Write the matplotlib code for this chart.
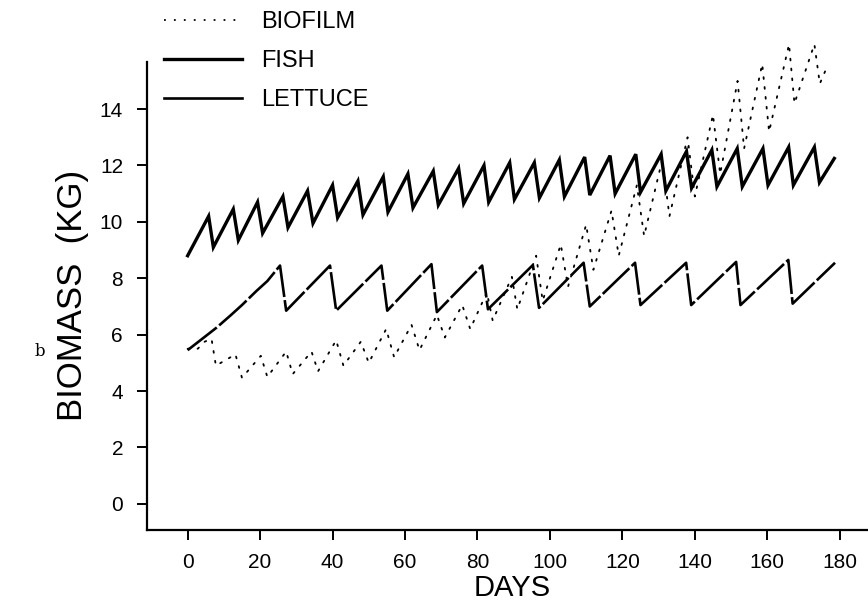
import matplotlib
matplotlib.use("Agg")
import matplotlib.pyplot as plt
from matplotlib.lines import Line2D

# fish: weekly sawtooth (start, peaks, troughs, end)
fish_start = (0, 8.8)
fish_peak_days = [5.8, 12.6, 19.3, 26.3, 33.1, 40.0, 47.0, 54.0, 60.8, 67.8, 74.8, 81.8,
                  88.9, 95.7, 102.6, 109.6, 116.6, 123.7, 130.7, 137.7, 144.7, 151.7,
                  158.8, 165.9, 173.0]
fish_peak_vals = [10.2, 10.45, 10.7, 10.9, 11.1, 11.3, 11.45, 11.6, 11.7, 11.8, 11.9, 12.0,
                  12.1, 12.1, 12.2, 12.3, 12.35, 12.4, 12.4, 12.5, 12.55, 12.6, 12.6,
                  12.65, 12.65]
fish_trough_days = [7.1, 14.0, 20.7, 27.7, 34.6, 41.4, 48.4, 55.3, 62.2, 69.2, 76.2, 83.1,
                    90.2, 97.1, 104.0, 111.0, 118.0, 125.0, 132.0, 139.1, 146.1, 153.1,
                    160.2, 167.2, 174.4]
fish_trough_vals = [9.1, 9.35, 9.6, 9.8, 9.95, 10.15, 10.25, 10.35, 10.5, 10.6, 10.65, 10.7,
                    10.8, 10.85, 10.9, 10.95, 11.0, 11.05, 11.1, 11.2, 11.25, 11.25, 11.3,
                    11.3, 11.4]
fish_end = (178.5, 12.25)

# lettuce: two-week harvest cycle
lettuce_start_days = [0, 4, 8, 12, 15, 19, 22]
lettuce_start_vals = [5.45, 5.85, 6.25, 6.7, 7.05, 7.55, 7.9]
lettuce_peak_days = [25.5, 39.3, 53.5, 67.3, 81.3, 95.3, 109.3, 123.5, 137.6, 151.4, 165.8]
lettuce_peak_vals = [8.45, 8.45, 8.45, 8.5, 8.45, 8.47, 8.55, 8.55, 8.55, 8.58, 8.65]
lettuce_trough_days = [27.2, 41.0, 55.1, 68.8, 82.9, 97.0, 111.0, 125.0, 139.0, 152.6, 167.0]
lettuce_trough_vals = [6.85, 6.85, 6.85, 6.8, 6.9, 6.95, 7.0, 7.05, 7.05, 7.05, 7.1]
lettuce_end = (178.7, 8.55)

# biofilm: dotted weekly sawtooth
biofilm_start_days = [0, 2.8, 4.7]
biofilm_start_vals = [5.5, 5.5, 5.75]
biofilm_peak_days = [6.6, 13.2, 20.2, 27.2, 34.2, 41.0, 47.8, 54.8, 61.8, 68.8, 75.8, 82.6,
                     89.5, 96.2, 103.0, 110.0, 117.0, 124.0, 131.0, 138.0, 145.0, 151.8,
                     158.6, 166.0, 173.0]
biofilm_peak_vals = [5.85, 5.3, 5.25, 5.4, 5.4, 5.8, 5.75, 6.2, 6.35, 6.7, 7.05, 7.5, 8.05,
                     8.8, 9.2, 9.9, 10.4, 11.3, 12.2, 13.0, 13.8, 15.0, 15.6, 16.3, 16.3]
biofilm_trough_days = [7.8, 15.0, 22.0, 29.0, 36.0, 43.0, 50.0, 57.0, 64.0, 71.0, 78.0, 84.2,
                       91.0, 98.0, 105.0, 112.0, 119.0, 126.0, 133.0, 140.0, 147.0, 153.6,
                       160.5, 167.5, 174.5]
biofilm_trough_vals = [4.9, 4.47, 4.5, 4.6, 4.7, 4.9, 5.0, 5.2, 5.45, 5.9, 6.2, 6.5, 6.9,
                       7.2, 7.7, 8.3, 8.8, 9.5, 10.2, 10.9, 11.7, 12.6, 13.2, 14.2, 14.9]
biofilm_end = (176.5, 15.5)

x_ticks = [0, 20, 40, 60, 80, 100, 120, 140, 160, 180]
y_ticks = [0, 2, 4, 6, 8, 10, 12, 14]


def zigzag(start_x, start_y, peak_x, peak_y, trough_x, trough_y, end):
    xs, ys = list(start_x), list(start_y)
    for px, py, tx, ty in zip(peak_x, peak_y, trough_x, trough_y):
        xs += [px, tx]
        ys += [py, ty]
    xs.append(end[0])
    ys.append(end[1])
    return xs, ys


plt.rcParams["font.family"] = ["Liberation Sans", "DejaVu Sans"]

fig = plt.figure(figsize=(8.68, 6.02), dpi=100)
ax = fig.add_axes([0.169, 0.120, 0.831, 0.777])

bx, by = zigzag(biofilm_start_days, biofilm_start_vals, biofilm_peak_days, biofilm_peak_vals,
                biofilm_trough_days, biofilm_trough_vals, biofilm_end)
fx, fy = zigzag([fish_start[0]], [fish_start[1]], fish_peak_days, fish_peak_vals,
                fish_trough_days, fish_trough_vals, fish_end)
lx, ly = zigzag(lettuce_start_days, lettuce_start_vals, lettuce_peak_days, lettuce_peak_vals,
                lettuce_trough_days, lettuce_trough_vals, lettuce_end)

ax.plot(bx, by, color="black", lw=1.3, linestyle=(0, (1, 4.5)), dash_capstyle="round",
        clip_on=False)
ax.plot(fx, fy, color="black", lw=2.4, solid_joinstyle="miter")
ax.plot(lx, ly, color="black", lw=1.9, linestyle=(0, (14, 1.2)))

ax.set_xlim(-11.3, 187.8)
ax.set_ylim(-0.92, 15.67)
ax.set_xticks(x_ticks)
ax.set_yticks(y_ticks)
ax.tick_params(direction="out", length=7, width=1.4, labelsize=15)
ax.tick_params(axis="x", pad=10)
ax.tick_params(axis="y", pad=10)
for side in ("top", "right"):
    ax.spines[side].set_visible(False)
for side in ("left", "bottom"):
    ax.spines[side].set_linewidth(1.6)

ax.set_ylabel("BIOMASS  (KG)", fontsize=25, labelpad=8)
fig.text(512 / 868, 1 - 588 / 602, "DAYS", fontsize=21, ha="center", va="center")

handles = [
    Line2D([], [], color="black", lw=1.3, linestyle=(0, (1, 4.5))),
    Line2D([], [], color="black", lw=2.4),
    Line2D([], [], color="black", lw=1.9),
]
fig.legend(handles, ["BIOFILM", "FISH", "LETTUCE"], loc="upper left",
           bbox_to_anchor=(0.178, 0.997), frameon=False, fontsize=17,
           handlelength=3.3, handletextpad=0.8, labelspacing=0.72,
           borderaxespad=0)

fig.text(40 / 868, 1 - 352 / 602, "b", family="DejaVu Serif", fontsize=12,
         ha="center", va="center")

fig.savefig("out.png", dpi=100)
